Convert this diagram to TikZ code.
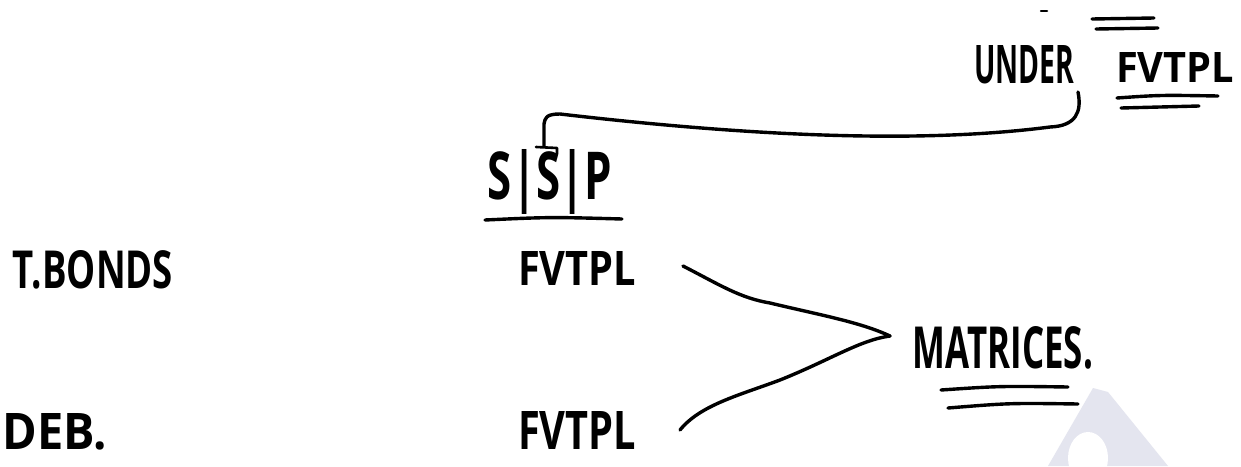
\documentclass[tikz,border=0pt]{standalone}
\usepackage{fontspec}
\setmainfont{Open Sans}
\usepackage{graphicx}
\newcommand{\hw}[3]{\resizebox{#1pt}{#2pt}{\fontseries{sb}\selectfont #3}}
\tikzset{
  ink/.style={line width=3.4pt, line cap=round, line join=round, black},
  word/.style={inner sep=0pt, anchor=center, text=black}
}
\begin{document}
\begin{tikzpicture}[x=1pt,y=-1pt]
\useasboundingbox (0,0) rectangle (1241,466);
\fill[white] (0,0) rectangle (1241,466);

% faint watermark in the lower right corner
\fill[color={rgb,255:red,228;green,229;blue,239}] (1048,466) -- (1093,388) -- (1108,392) -- (1168,466) -- cycle;
\fill[white] (1088,458) ellipse (20pt and 26pt);

% labels
\node[word] (under) at (1024,65) {\hw{100}{38}{UNDER}};
\node[word] (fvtop) at (1175,67) {\hw{118}{30}{FVTPL}};
\node[word] (ssp)   at (550,182) {\hw{124}{50}{S|S|P}};
\node[word] (tb)    at (93,270)  {\hw{160}{38}{T.BONDS}};
\node[word] (deb)   at (55,432)  {\hw{104}{36}{DEB.}};
\node[word] (fv1)   at (577,268) {\hw{118}{34}{FVTPL}};
\node[word] (fv2)   at (577,430) {\hw{118}{38}{FVTPL}};
\node[word] (mat)   at (1003,348){\hw{180}{42}{MATRICES.}};

% small stroke above the heading
\draw[ink, line width=2.5pt] (1041,11) -- (1047,11);

% double rules above and below FVTPL in the heading
\draw[ink] (1092,19) -- (1154,18);
\draw[ink] (1096,29) -- (1158,28);
\draw[ink] (1117,98) .. controls (1160,95) .. (1218,96);
\draw[ink] (1121,108) -- (1199,106);

% rule under S|S|P
\draw[ink] (485,220) .. controls (550,217) .. (622,219);

% connector from the heading down to S|S|P
\coordinate (c0) at (1078,92);
\coordinate (c1) at (544,146);
\draw[ink] (c0) .. controls (1082,112) and (1076,126) .. (1050,127)
  .. controls (950,140) and (800,142) .. (560,114)
  .. controls (546,114) and (545,118) .. (544,124) -- (c1);
\draw[ink, line width=2.6pt] (536,147) -- (557,148) -- (557,154);

% two branches meeting at MATRICES.
\coordinate (tip) at (890,336);
\draw[ink] (683,266) .. controls (720,285) and (740,298) .. (770,303)
  .. controls (820,315) and (860,322) .. (tip);
\draw[ink] (680,430) .. controls (700,405) and (740,395) .. (780,380)
  .. controls (830,360) and (860,340) .. (tip);

% double rule under MATRICES.
\draw[ink] (941,390) .. controls (1000,386) .. (1068,387);
\draw[ink] (948,408) .. controls (1010,403) .. (1078,404);
\end{tikzpicture}
\end{document}
